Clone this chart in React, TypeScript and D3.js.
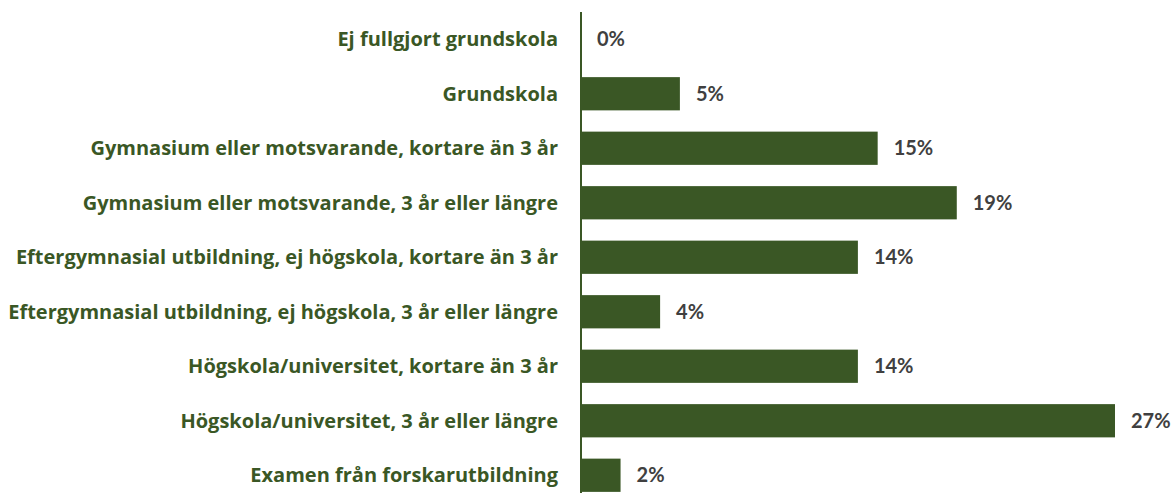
import React from "react";
import * as d3 from "d3";

const categories = [
  "Ej fullgjort grundskola",
  "Grundskola",
  "Gymnasium eller motsvarande, kortare än 3 år",
  "Gymnasium eller motsvarande, 3 år eller längre",
  "Eftergymnasial utbildning, ej högskola, kortare än 3 år",
  "Eftergymnasial utbildning, ej högskola, 3 år eller längre",
  "Högskola/universitet, kortare än 3 år",
  "Högskola/universitet, 3 år eller längre",
  "Examen från forskarutbildning",
];
const values = [0, 5, 15, 19, 14, 4, 14, 27, 2];

const W = 1176;
const H = 493;
const axisX = 581;
const bandTop = 12;
const bandStep = 54.5;

export default function App() {
  const x = d3.scaleLinear().domain([0, 27]).range([axisX, 1115]);
  const y = d3
    .scaleBand<string>()
    .domain(categories)
    .range([bandTop, bandTop + bandStep * categories.length])
    .paddingInner(0.39)
    .paddingOuter(0.195);
  const green = "#3A5725";
  return (
    <svg
      width={W}
      height={H}
      style={{ position: "absolute", left: 0, top: 0, background: "#fff" }}
    >
      {categories.map((c, i) => {
        const yy = y(c)!;
        const bw = y.bandwidth();
        const cy = yy + bw / 2;
        return (
          <g key={c}>
            {values[i] > 0 && (
              <rect
                x={x(0)}
                y={yy}
                width={x(values[i]) - x(0)}
                height={bw}
                fill={green}
              />
            )}
            <text
              x={558}
              y={cy}
              dy="0.36em"
              textAnchor="end"
              fill={green}
              fontFamily="'Open Sans', sans-serif"
              fontWeight={700}
              fontSize={20}
            >
              {c}
            </text>
            <text
              x={x(values[i]) + 16}
              y={cy}
              dy="0.36em"
              fill="#404040"
              fontFamily="Lato, sans-serif"
              fontWeight={700}
              fontSize={20}
            >
              {d3.format(".0%")(values[i] / 100)}
            </text>
          </g>
        );
      })}
      <line x1={axisX} x2={axisX} y1={bandTop} y2={H} stroke={green} strokeWidth={2} />
    </svg>
  );
}
